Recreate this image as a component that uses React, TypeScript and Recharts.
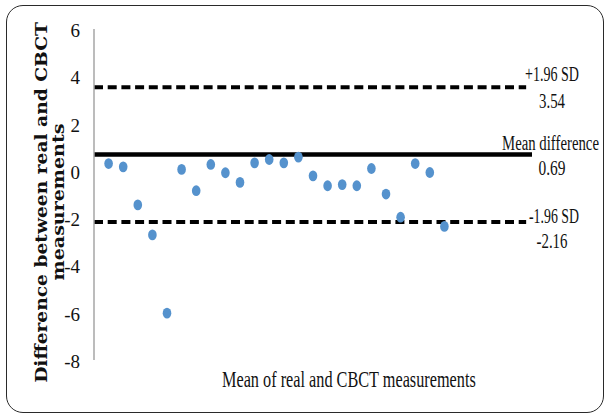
import React, { useLayoutEffect, useRef, useState } from 'react';
import { ScatterChart, Scatter, XAxis, YAxis, ReferenceLine } from 'recharts';

// measurement index along the (unlabelled) x axis
const pairIndex = [1, 2, 3, 4, 5, 6, 7, 8, 9, 10, 11, 12, 13, 14, 15, 16, 17, 18, 19, 20, 21, 22, 23, 24];
// difference between real and CBCT measurements
const differences = [
  0.31, 0.17, -1.44, -2.71, -6.02, 0.06, -0.84, 0.27, -0.08, -0.49, 0.34, 0.48,
  0.34, 0.58, -0.21, -0.63, -0.58, -0.63, 0.1, -0.98, -1.96, 0.31, -0.07, -2.35,
];
const yTicks = [-8, -6, -4, -2, 0, 2, 4, 6];

const upperLimit = 3.54;
const meanDiff = 0.69;
const lowerLimit = -2.16;

const points = pairIndex.map((x, i) => ({ x, y: differences[i] }));

const SERIF = '"Liberation Serif", "Times New Roman", serif';
const INK = '#111';

// text squeezed horizontally to a given width (the source uses a condensed face)
const FitText = ({
  x,
  y,
  width,
  anchor = 'start',
  rotate = 0,
  children,
  ...rest
}: any) => {
  const ref = useRef<SVGTextElement>(null);
  const [sx, setSx] = useState(1);
  useLayoutEffect(() => {
    if (ref.current) {
      const w = ref.current.getComputedTextLength();
      if (w > 0) setSx(width / w);
    }
  }, [width, children]);
  const rot = rotate ? ` rotate(${rotate})` : '';
  return (
    <text ref={ref} transform={`translate(${x},${y})${rot} scale(${sx},1)`} textAnchor={anchor} {...rest}>
      {children}
    </text>
  );
};

const YTick = (props: any) => {
  const { x, y, payload } = props;
  return (
    <text x={x} y={y + 8} textAnchor="end" fontFamily={SERIF} fontSize={19} fill={INK}>
      {payload.value}
    </text>
  );
};

const YTitle = () => (
  <g fontFamily='"DejaVu Serif", serif' fontWeight="bold" fontSize={16.5} fill={INK}>
    <FitText x={47} y={202.5} rotate={-90} anchor="middle" width={361}>
      Difference between real and CBCT
    </FitText>
    <FitText x={63.5} y={202} rotate={-90} anchor="middle" width={157}>
      measurements
    </FitText>
  </g>
);

// two-line label on the right end of a limit line
const limitLabel = (
  title: string,
  titleX: number,
  titleW: number,
  titleDy: number,
  value: string,
  valueW: number,
  valueDy: number,
) => (props: any) => {
  const y = props.viewBox ? props.viewBox.y : 0;
  return (
    <g fontFamily={SERIF} fontSize={20} fill={INK}>
      <FitText x={titleX} y={y + titleDy} width={titleW}>
        {title}
      </FitText>
      <FitText x={552} y={y + valueDy} anchor="middle" width={valueW}>
        {value}
      </FitText>
    </g>
  );
};

const Dot = (props: any) => {
  const { cx, cy } = props;
  return <ellipse cx={cx} cy={cy} rx={4.3} ry={5.4} fill="#5592cd" />;
};

export default function App() {
  return (
    <div style={{ position: 'absolute', left: 0, top: 0, width: 604, height: 417, background: '#fff' }}>
      <ScatterChart width={604} height={417} margin={{ top: 29, right: 72, bottom: 57, left: 64 }}>
        <XAxis type="number" dataKey="x" domain={[0, 30]} hide />
        <YAxis
          type="number"
          dataKey="y"
          domain={[-8, 6]}
          ticks={yTicks}
          width={30}
          axisLine={{ stroke: '#a6a6a6', strokeWidth: 1.5 }}
          tickLine={false}
          tickSize={0}
          tickMargin={14}
          tick={<YTick />}
          label={<YTitle />}
        />
        <ReferenceLine
          segment={[{ x: 0, y: upperLimit }, { x: 29.6, y: upperLimit }]}
          stroke="#000"
          strokeWidth={4}
          strokeDasharray="9 4.7"
          label={limitLabel('+1.96 SD', 525, 54, -6, '3.54', 26, 21)}
        />
        <ReferenceLine
          y={meanDiff}
          stroke="#000"
          strokeWidth={4.5}
          label={limitLabel('Mean difference', 502, 97, -4.6, '0.69', 27, 20.4)}
        />
        <ReferenceLine
          segment={[{ x: 0, y: lowerLimit }, { x: 29.6, y: lowerLimit }]}
          stroke="#000"
          strokeWidth={4}
          strokeDasharray="9 4.7"
          label={limitLabel('-1.96 SD', 529, 50, 1, '-2.16', 31, 26)}
        />
        <Scatter data={points} shape={<Dot />} isAnimationActive={false} />
        <FitText x={222} y={387} width={254} fontFamily={SERIF} fontSize={23.5} fill={INK}>
          Mean of real and CBCT measurements
        </FitText>
      </ScatterChart>
      <div
        style={{
          position: 'absolute',
          left: 6,
          top: 5,
          width: 598,
          height: 408,
          boxSizing: 'border-box',
          border: '1.5px solid #2a2a2a',
          borderRadius: 17,
          pointerEvents: 'none',
        }}
      />
    </div>
  );
}
